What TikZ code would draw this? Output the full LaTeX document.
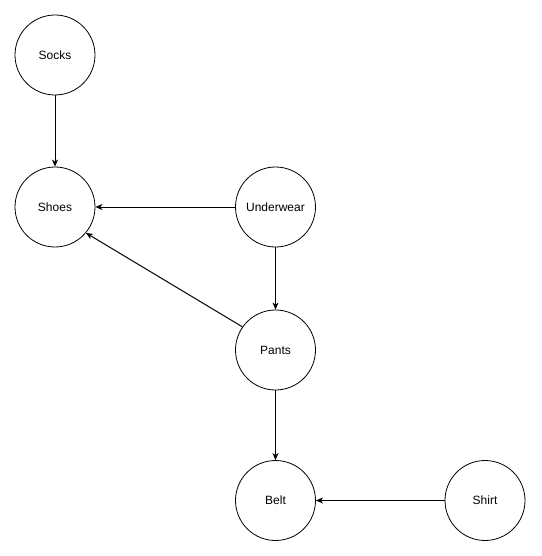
\documentclass[tikz,border=0pt]{standalone}
\usepackage{fontspec}
\setmainfont{Liberation Sans}
\usetikzlibrary{arrows.meta}
\begin{document}
\begin{tikzpicture}[x=1pt,y=-1pt,
  vertex/.style={draw, circle, minimum size=80pt, inner sep=0pt, line width=0.8pt, font=\fontsize{12}{14}\selectfont},
  edge/.style={draw, line width=1pt, -{Stealth[length=7pt,width=6pt,inset=2pt]}}]
\useasboundingbox (0,0) rectangle (541,556);
\node[vertex] (socks) at (55,55) {Socks};
\node[vertex] (shoes) at (55,207) {Shoes};
\node[vertex] (under) at (275.5,207) {Underwear};
\node[vertex] (pants) at (275.5,350) {Pants};
\node[vertex] (belt) at (275.5,500.5) {Belt};
\node[vertex] (shirt) at (485,500.5) {Shirt};
\draw[edge] (socks) -- (shoes);
\draw[edge] (under) -- (shoes);
\draw[edge] (under) -- (pants);
\draw[edge] (pants.145) -- (shoes.-40);
\draw[edge] (pants) -- (belt);
\draw[edge] (shirt) -- (belt);
\end{tikzpicture}
\end{document}
